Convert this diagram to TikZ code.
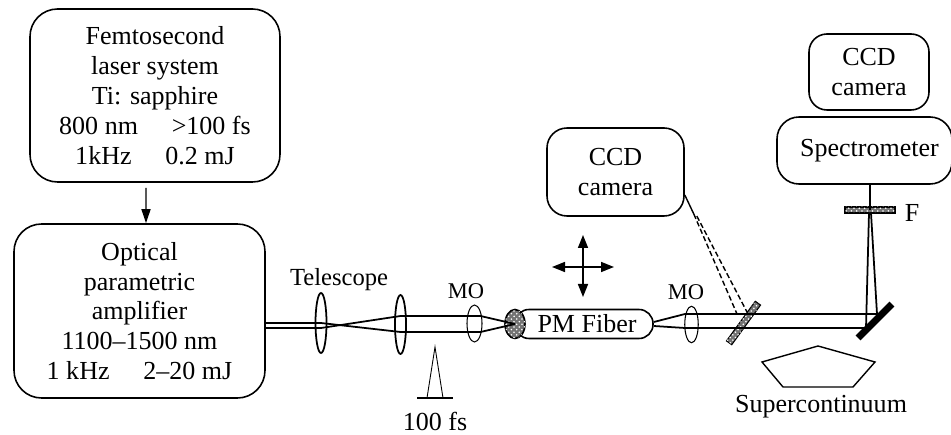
\documentclass[tikz,border=0pt]{standalone}
\usepackage{fontspec}
\setmainfont{Liberation Serif}
\usepackage{tikz}
\usetikzlibrary{arrows.meta}
\usetikzlibrary{shapes.geometric}
\usetikzlibrary{calc}
\usetikzlibrary{patterns}
\tikzstyle{boxText} = [align=center,font=\fontsize{14.8}{17}\selectfont]
\tikzstyle{unitBox} = [draw,line width=0.9pt,boxText,inner sep=0pt]
\tikzstyle{lensEll} = [draw,ellipse,inner sep=0pt,line width=1.0pt]
\tikzstyle{hatchBar} = [draw,fill=black!55,postaction={pattern=crosshatch dots,pattern color=white},inner sep=0pt,line width=0.6pt]
\tikzstyle{beamLine} = [line width=1.0pt]
\tikzstyle{pickLine} = [line width=0.8pt,dash pattern=on 3pt off 1.6pt]
\tikzstyle{headBoth} = [{Stealth[length=0.26cm,width=0.20cm,inset=0pt]}-{Stealth[length=0.26cm,width=0.20cm,inset=0pt]},line width=0.9pt]
\begin{document}
\begin{tikzpicture}
                    \useasboundingbox (0,0) rectangle (19.02,-8.70);
                    \node at (3.10,-1.91)  [unitBox,minimum width=5.00cm,minimum height=3.46cm,rounded corners=0.55cm] (nLaser) {Femtosecond\\laser system\\Ti: sapphire\\800 nm\hspace{1.3em}>100 fs\\1kHz\hspace{1.3em}0.2 mJ};
                    \node at (nLaser)      [xshift=-0.31cm,yshift=-4.31cm,unitBox,minimum width=5.02cm,minimum height=3.48cm,rounded corners=0.55cm] (nOPA) {Optical\\parametric\\amplifier\\1100--1500 nm\\1 kHz\hspace{1.3em}2--20 mJ};
                    \node at (nOPA)        [xshift= 3.63cm,yshift=-0.24cm,lensEll,minimum width=0.22cm,minimum height=1.20cm] (nLensA) {};
                    \node at (nLensA)      [xshift= 1.59cm,yshift=-0.03cm,lensEll,minimum width=0.22cm,minimum height=1.18cm] (nLensB) {};
                    \node at (nLensB)      [xshift= 1.48cm,yshift= 0.02cm,lensEll,minimum width=0.30cm,minimum height=0.74cm,line width=0.6pt] (nMOa) {};
                    \node at (nMOa)        [xshift= 2.19cm,yshift=-0.01cm,unitBox,minimum width=2.76cm,minimum height=0.58cm,rounded corners=0.28cm] (nFiber) {\hspace*{0.12cm}PM Fiber};
                    \node at (nFiber)      [xshift=-1.38cm,yshift= 0.00cm,hatchBar,ellipse,minimum width=0.40cm,minimum height=0.58cm,line width=0.9pt] (nCore) {};
                    \node at (nFiber)      [xshift= 2.15cm,yshift=-0.01cm,lensEll,minimum width=0.27cm,minimum height=0.73cm,line width=0.6pt] (nMOb) {};
                    \node at (nMOb)        [xshift= 1.04cm,yshift= 0.03cm,hatchBar,rotate=54,minimum width=0.98cm,minimum height=0.13cm] (nPlate) {};
                    \node at (nPlate)      [xshift= 2.63cm,yshift= 0.04cm,fill=black,rotate=45,inner sep=0pt,minimum width=0.96cm,minimum height=0.14cm] (nMirror) {};
                    \node at (nMirror)     [xshift=-0.10cm,yshift= 2.22cm,hatchBar,minimum width=1.00cm,minimum height=0.12cm] (nFilter) {};
                    \node at (nFilter)     [xshift=-0.11cm,yshift= 1.19cm,unitBox,minimum width=3.50cm,minimum height=1.34cm,rounded corners=0.44cm] (nSpec) {\hspace*{0.20cm}Spectrometer};
                    \node at (nSpec)       [xshift= 0.09cm,yshift= 1.57cm,unitBox,minimum width=2.40cm,minimum height=1.52cm,rounded corners=0.36cm] (nCCDb) {CCD\\camera};
                    \node at (nSpec)       [xshift=-4.98cm,yshift=-0.43cm,unitBox,minimum width=2.74cm,minimum height=1.76cm,rounded corners=0.40cm] (nCCDa) {CCD\\camera};
                    \node at (nLensA)      [xshift= 0.36cm,yshift= 0.86cm,align=center,font=\fontsize{14}{17}\selectfont] (nTele) {Telescope};
                    \node at (nMOa)        [xshift=-0.17cm,yshift= 0.65cm,align=center,font=\fontsize{12.8}{17}\selectfont] (nMOaL) {MO};
                    \node at (nMOb)        [xshift=-0.11cm,yshift= 0.65cm,align=center,font=\fontsize{12.8}{17}\selectfont] (nMObL) {MO};
                    \node at (nLensB)      [xshift= 0.69cm,yshift=-1.93cm,boxText] (nPulse) {100 fs};
                    \node at (nMirror)     [xshift=-1.08cm,yshift=-1.72cm,boxText] (nSuper) {Supercontinuum};
                    \node at (nFilter)     [xshift= 0.84cm,yshift=-0.06cm,boxText] (nFL) {F};
                    \coordinate (nCross) at (11.66,-5.34);
                    % laser to amplifier
                    \draw[-{Stealth[length=0.28cm,width=0.18cm,inset=0pt]},line width=0.8pt] ($(nLaser.south)+(-0.18,-0.10)$) -- ($(nOPA.north)+(0.13,0)$);
                    % beam, left part
                    \draw[beamLine] ($(nOPA.east)+(0,-0.24)$) -- (nLensA.center) -- ($(nLensB)+(0,-0.15)$) -- ($(nMOa)+(0.12,-0.17)$) -- (nCore.center);
                    \draw[beamLine] ($(nOPA.east)+(0,-0.34)$) -- ($(nLensA)+(0,-0.10)$) -- ($(nLensB)+(0,0.17)$) -- ($(nMOa)+(0.12,0.15)$) -- (nCore.center);
                    % beam, right part
                    \draw[beamLine] ($(nFiber.east)+(0,0.04)$) -- ($(nMOb)+(-0.13,0.21)$) -- ($(nMirror)+(0.04,0.14)$) -- ($(nFilter)+(0.02,-0.06)$);
                    \draw[beamLine] ($(nFiber.east)+(0,-0.04)$) -- ($(nMOb)+(-0.13,-0.07)$) -- ($(nMirror)+(-0.18,-0.14)$) -- ($(nFilter)+(-0.02,-0.06)$);
                    \draw[beamLine] (nFilter.center) -- (nFilter.center |- nSpec.south);
                    % picked off beam
                    \draw[line width=0.8pt] ($(nCCDa.east)+(0,-0.46)$) -- ($(nCCDa.east)+(0.18,-0.84)$);
                    \draw[pickLine] ($(nCCDa.east)+(0.18,-0.84)$) -- ($(nPlate)+(-0.13,0.18)$);
                    \draw[pickLine] ($(nCCDa.east)+(0.24,-0.88)$) -- ($(nPlate)+( 0.07,0.22)$);
                    % polarisation cross
                    \draw[headBoth] ($(nCross)+(-0.62,0)$) -- ($(nCross)+(0.62,0)$);
                    \draw[headBoth] ($(nCross)+(0,0.64)$) -- ($(nCross)+(0,-0.60)$);
                    % pulse
                    \draw[line width=0.5pt] ($(nPulse)+(-0.16,0.46)$) -- ($(nPulse)+(0,1.48)$) -- ($(nPulse)+(0.16,0.46)$);
                    \draw[line width=0.8pt] ($(nPulse)+(-0.36,0.46)$) -- ($(nPulse)+(0.36,0.46)$);
                    % prism
                    \draw[line width=0.8pt] (15.24,-7.24) -- (16.36,-6.92) -- (17.50,-7.24) -- (17.06,-7.74) -- (15.66,-7.74) -- cycle;
                \end{tikzpicture}
\end{document}
